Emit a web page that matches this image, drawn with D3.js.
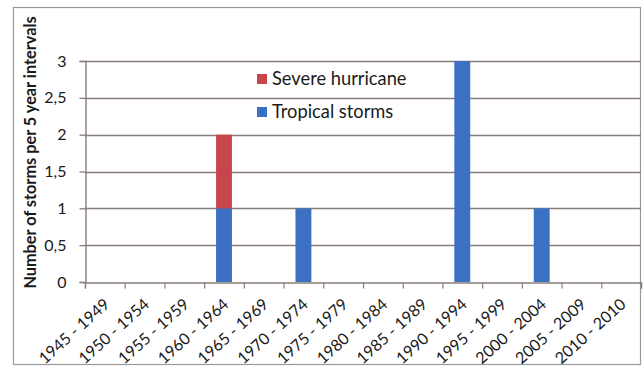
<!DOCTYPE html>
<html>
<head>
<meta charset="utf-8">
<script src="https://cdn.jsdelivr.net/npm/d3@7"></script>
<style>
  html, body { margin: 0; padding: 0; background: #ffffff; }
  svg { display: block; }
  text { font-family: Lato, "Open Sans", sans-serif; fill: #1a1a1a; }
</style>
</head>
<body>
<svg id="chart" width="644" height="367"></svg>
<script>
const categories = ["1945 - 1949","1950 - 1954","1955 - 1959","1960 - 1964","1965 - 1969","1970 - 1974","1975 - 1979","1980 - 1984","1985 - 1989","1990 - 1994","1995 - 1999","2000 - 2004","2005 - 2009","2010 - 2010"];
const tropicalStorms = [0,0,0,1,0,1,0,0,0,3,0,1,0,0];
const severeHurricane = [0,0,0,1,0,0,0,0,0,0,0,0,0,0];
const yTicks = [0,0.5,1,1.5,2,2.5,3];
const yTickLabels = ["0","0,5","1","1,5","2","2,5","3"];
const seriesNames = ["Tropical storms","Severe hurricane"];
const seriesColors = ["#3b70c2","#c8464b"];
const yTitle = "Number of storms per 5 year intervals";

const svg = d3.select("#chart");
const plot = {left: 85, right: 641, top: 61, bottom: 282};

// outer border
svg.append("rect").attr("x", 13.5).attr("y", 7.5).attr("width", 627).attr("height", 357)
  .attr("fill", "#ffffff").attr("stroke", "#9a9a9a").attr("stroke-width", 1.2);

const x = d3.scaleBand().domain(categories).range([plot.left, plot.right]).paddingInner(0.6).paddingOuter(0.3);
const xb = d3.scaleBand().domain(categories).range([plot.left, plot.right]);
const y = d3.scaleLinear().domain([0, 3]).range([plot.bottom, plot.top]);

// gridlines
svg.append("g").selectAll("line").data(yTicks.filter(d => d > 0)).join("line")
  .attr("x1", plot.left).attr("x2", plot.right)
  .attr("y1", d => Math.round(y(d)) + 0.5).attr("y2", d => Math.round(y(d)) + 0.5)
  .attr("stroke", "#867d78").attr("stroke-width", 1.4);

// stacked bars
const stackData = categories.map((c, i) => ({cat: c, t: tropicalStorms[i], s: severeHurricane[i]}));
const stack = d3.stack().keys(["t", "s"])(stackData);
svg.append("g").selectAll("g").data(stack).join("g")
  .attr("fill", (d, i) => seriesColors[i])
  .selectAll("rect").data(d => d).join("rect")
  .attr("x", d => x(d.data.cat))
  .attr("width", x.bandwidth())
  .attr("y", d => y(d[1]))
  .attr("height", d => y(d[0]) - y(d[1]));

// y axis
const yAxis = d3.axisLeft(y).tickValues(yTicks).tickFormat((d, i) => yTickLabels[i]).tickSize(6).tickPadding(13);
const gy = svg.append("g").attr("transform", `translate(${plot.left + 0.5},0)`).call(yAxis);
gy.select(".domain").attr("stroke", "#867d78").attr("stroke-width", 1.4);
gy.selectAll(".tick line").attr("stroke", "#867d78").attr("stroke-width", 1.3);
gy.selectAll(".tick text").style("font-family", "Lato, sans-serif").style("font-size", "16px").attr("fill", "#1a1a1a");

// x axis
const xAxis = d3.axisBottom(xb).tickSize(6).tickFormat(d => d);
const gx = svg.append("g").attr("transform", `translate(0,${plot.bottom + 0.5})`).call(xAxis);
gx.select(".domain").attr("stroke", "#867d78").attr("stroke-width", 1.4);
gx.selectAll(".tick line").remove();
gx.append("g").selectAll("line").data(categories.concat(["end"])).join("line")
  .attr("x1", (d, i) => plot.left + i * xb.step() + 0.5)
  .attr("x2", (d, i) => plot.left + i * xb.step() + 0.5)
  .attr("y1", 0).attr("y2", 6)
  .attr("stroke", "#867d78").attr("stroke-width", 1.2);
gx.selectAll(".tick text")
  .style("font-family", "Lato, sans-serif").style("font-size", "16px").attr("fill", "#1a1a1a")
  .attr("text-anchor", "end")
  .attr("y", 0).attr("dy", "0.35em")
  .attr("transform", "translate(2,19) rotate(-42)");

// y title
svg.append("text")
  .attr("transform", `translate(36,${(15 + 290) / 2}) rotate(-90)`)
  .attr("text-anchor", "middle")
  .style("font-size", "16.3px").style("font-weight", "bold")
  .text(yTitle);

// legend
const legendItems = [
  {name: seriesNames[1], color: seriesColors[1]},
  {name: seriesNames[0], color: seriesColors[0]}
];
const lg = svg.append("g").attr("transform", "translate(257,74)");
lg.selectAll("rect").data(legendItems).join("rect")
  .attr("x", 0).attr("y", (d, i) => i * 33).attr("width", 10).attr("height", 10)
  .attr("fill", d => d.color);
lg.selectAll("text").data(legendItems).join("text")
  .attr("x", 15).attr("y", (d, i) => i * 33 + 11)
  .style("font-size", "18.3px")
  .text(d => d.name);
</script>
</body>
</html>
